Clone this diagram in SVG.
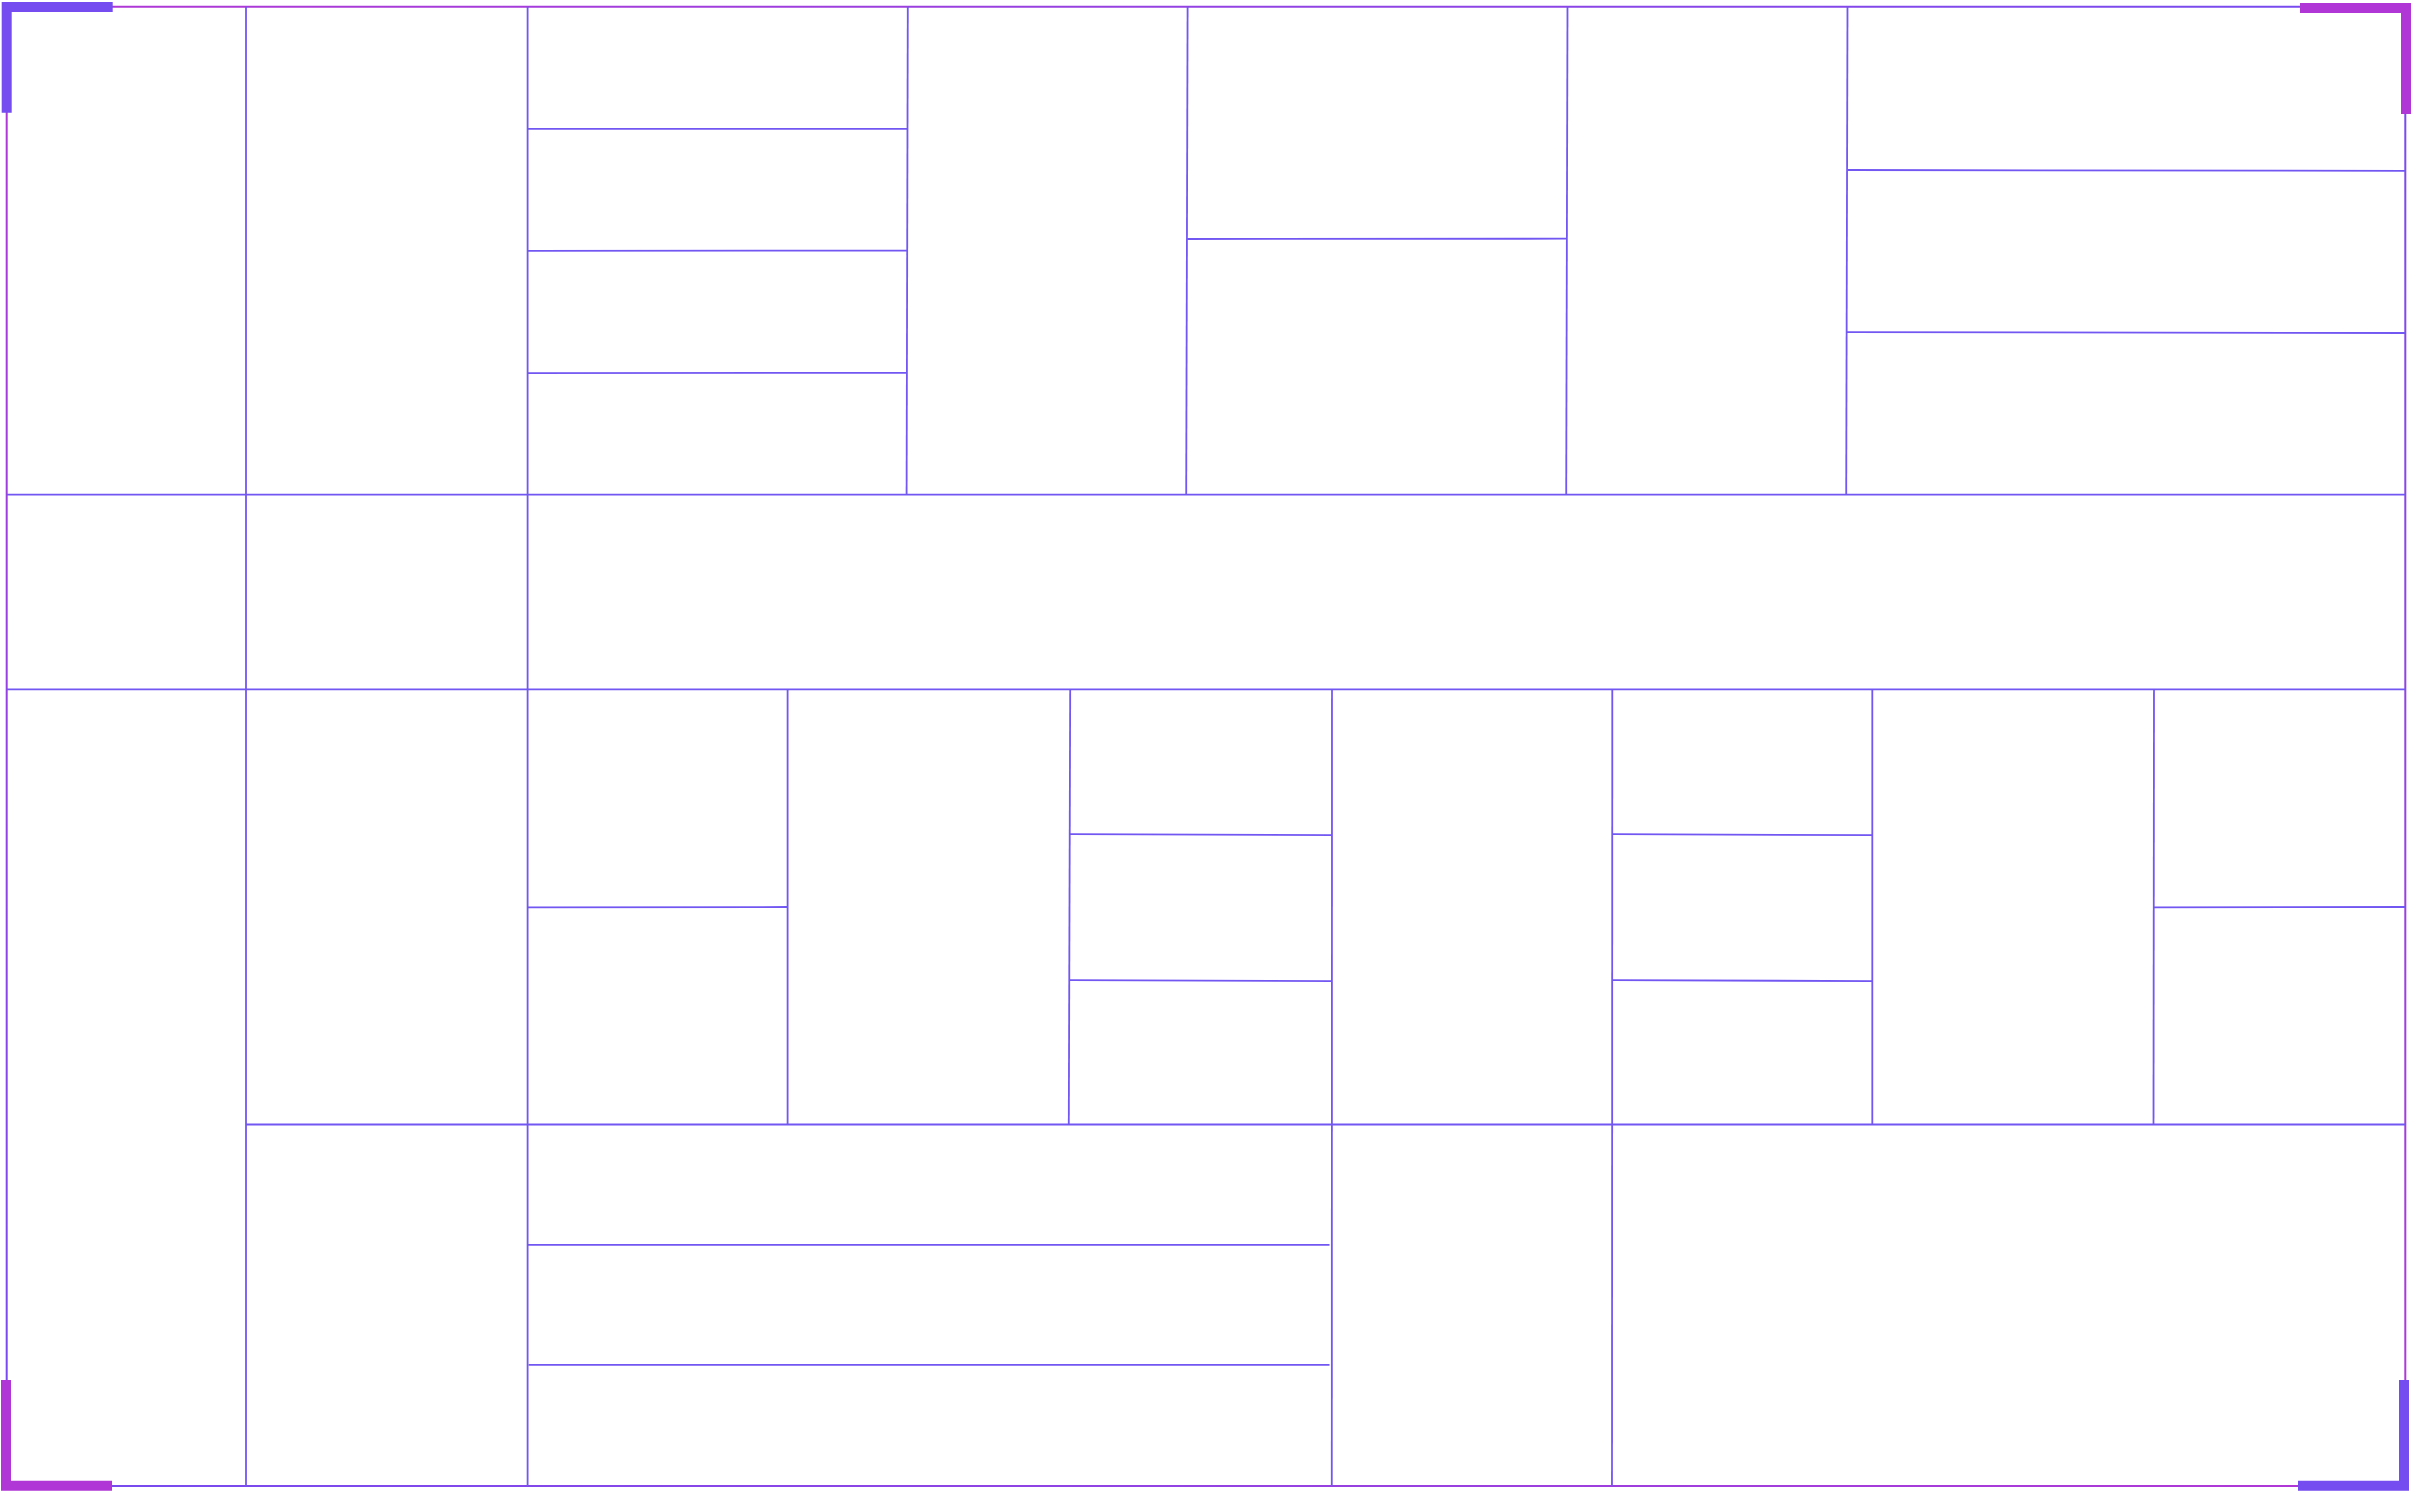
<svg xmlns="http://www.w3.org/2000/svg" width="2412" height="1492" viewBox="0 0 2412 1492">
  <defs>
    <linearGradient id="gTop" gradientUnits="userSpaceOnUse" x1="6.7" y1="0" x2="2405.3" y2="0">
      <stop offset="0" stop-color="#B237D4"/>
      <stop offset="1" stop-color="#754CF0"/>
    </linearGradient>
    <linearGradient id="gLeft" gradientUnits="userSpaceOnUse" x1="0" y1="6.7" x2="0" y2="1486">
      <stop offset="0" stop-color="#B237D4"/>
      <stop offset="1" stop-color="#754CF0"/>
    </linearGradient>
    <linearGradient id="gBottom" gradientUnits="userSpaceOnUse" x1="6.7" y1="0" x2="2405.3" y2="0">
      <stop offset="0" stop-color="#754CF0"/>
      <stop offset="1" stop-color="#B237D4"/>
    </linearGradient>
    <linearGradient id="gRight" gradientUnits="userSpaceOnUse" x1="0" y1="6.7" x2="0" y2="1486">
      <stop offset="0" stop-color="#754CF0"/>
      <stop offset="1" stop-color="#B237D4"/>
    </linearGradient>
  </defs>
  <style>
    .frame { stroke-width: 2; fill: none; }
    .corner { stroke-width: 10; fill: none; stroke-linecap: butt; stroke-linejoin: miter; }
    .blue { stroke: #754CF0; }
    .mag { stroke: #B037D5; }
    .wall { stroke: #7257F2; stroke-width: 1.8; fill: none; }
  </style>
  <rect width="2412" height="1492" fill="#FFFFFF"/>

  <g id="frame">
    <line class="frame" x1="6.7" y1="6.7" x2="2405.3" y2="6.7" stroke="url(#gTop)"/>
    <line class="frame" x1="6.7" y1="6.7" x2="6.7" y2="1486" stroke="url(#gLeft)"/>
    <line class="frame" x1="6.7" y1="1486" x2="2405.3" y2="1486" stroke="url(#gBottom)"/>
    <line class="frame" x1="2405.3" y1="6.7" x2="2405.3" y2="1486" stroke="url(#gRight)"/>
  </g>

  <g id="walls" class="wall">
    <!-- row separators -->
    <line x1="6.7" y1="494.7" x2="2405.3" y2="494.7"/>
    <line x1="6.7" y1="689.3" x2="2405.3" y2="689.3"/>
    <line x1="246" y1="1124.5" x2="2405.3" y2="1124.5"/>
    <!-- full-height verticals -->
    <line x1="246" y1="6.7" x2="246" y2="1486"/>
    <line x1="527.6" y1="6.7" x2="527.6" y2="1486"/>
    <!-- top row verticals -->
    <line x1="907.8" y1="6.7" x2="906.6" y2="494.7"/>
    <line x1="1187.6" y1="6.7" x2="1186.2" y2="494.7"/>
    <line x1="1567.5" y1="6.7" x2="1566.2" y2="494.7"/>
    <line x1="1847.5" y1="6.7" x2="1846.2" y2="494.7"/>
    <!-- top row horizontals -->
    <line x1="527.6" y1="128.9" x2="907.5" y2="128.9"/>
    <line x1="527.6" y1="250.9" x2="907.1" y2="250.6"/>
    <line x1="527.6" y1="373.1" x2="906.8" y2="372.8"/>
    <line x1="1187.2" y1="239" x2="1567" y2="238.7"/>
    <line x1="1847.3" y1="170" x2="2405.3" y2="170.9"/>
    <line x1="1846.6" y1="332.1" x2="2405.3" y2="333"/>
    <!-- third row verticals -->
    <line x1="787.6" y1="689.3" x2="787.6" y2="1124.5"/>
    <line x1="1070.2" y1="689.3" x2="1068.8" y2="1124.5"/>
    <line x1="1332" y1="689.3" x2="1331.8" y2="1486"/>
    <line x1="1612.3" y1="689.3" x2="1612" y2="1486"/>
    <line x1="1872.3" y1="689.3" x2="1872.3" y2="1124.5"/>
    <line x1="2154" y1="689.3" x2="2153.5" y2="1124.5"/>
    <!-- third row horizontals -->
    <line x1="527.6" y1="907.3" x2="787.6" y2="907"/>
    <line x1="2153.8" y1="907.4" x2="2405.3" y2="907"/>
    <line x1="1069.8" y1="834.2" x2="1332" y2="835.2"/>
    <line x1="1069.3" y1="980.1" x2="1332" y2="981.1"/>
    <line x1="1612.2" y1="834.2" x2="1872.3" y2="835.2"/>
    <line x1="1612" y1="980.1" x2="1872.3" y2="981.1"/>
    <!-- bottom row horizontals -->
    <line x1="527.6" y1="1244.9" x2="1329.5" y2="1244.9"/>
    <line x1="528.6" y1="1364.8" x2="1329.5" y2="1364.8"/>
  </g>

  <g id="corners">
    <path class="corner blue" d="M6.7 112.7 V7 H112.7"/>
    <path class="corner mag" d="M2300 8 H2406 V114"/>
    <path class="corner mag" d="M6 1380 V1485.7 H112"/>
    <path class="corner blue" d="M2298 1485.7 H2404 V1380"/>
  </g>
</svg>
